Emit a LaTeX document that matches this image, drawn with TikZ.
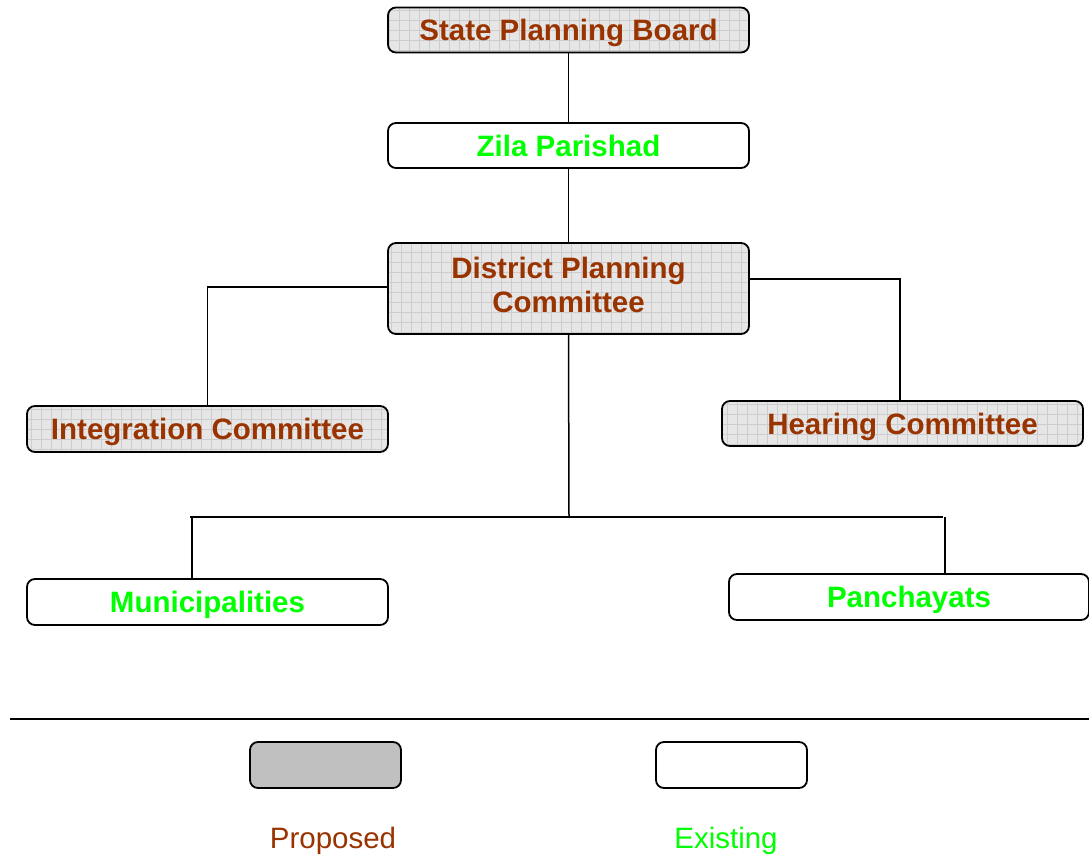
\documentclass[tikz,border=0pt]{standalone}
\usepackage{fontspec}
\setmainfont{Liberation Sans}
\definecolor{brownc}{HTML}{993300}
\definecolor{greenc}{HTML}{00FF00}
\definecolor{gridfill}{HTML}{E6E6E6}
\definecolor{gridline}{HTML}{CDCDCD}
\definecolor{legfill}{HTML}{C0C0C0}
\begin{document}
\begin{tikzpicture}[x=1pt,y=-1pt,
  basebox/.style={draw=black, line width=1.8pt, rounded corners=8pt, minimum width=361pt, minimum height=45pt, inner sep=0pt,
     font=\fontsize{29.5}{34}\selectfont\bfseries, align=center},
  proposed/.style={basebox, text=brownc, fill=gridfill,
     path picture={\draw[gridline, line width=0.6pt, step=10pt] (path picture bounding box.south west) grid (path picture bounding box.north east);}},
  existing/.style={basebox, text=greenc, fill=white},
  conn/.style={draw=black, line width=1.5pt},
  legtext/.style={font=\fontsize{29.5}{34}\selectfont, inner sep=0pt, text depth=0pt}
]
\useasboundingbox (0,0) rectangle (1089,856);
\node[proposed, text depth=0pt] (spb) at (568.5,30) {State Planning Board};
\node[existing, minimum height=45pt] (zila) at (568.5,145.5) {Zila Parishad};
\node[proposed, minimum height=91pt, text depth=8pt] (dpc) at (568.5,288.5) {District Planning\\Committee};
\node[proposed, minimum height=46pt, text depth=0pt] (integ) at (207.5,429) {Integration Committee};
\node[proposed, text depth=0pt] (hear) at (902.5,423.5) {Hearing Committee};
\node[existing, minimum height=46pt, text depth=0pt] (muni) at (207.5,602) {Municipalities};
\node[existing, minimum width=360pt, minimum height=46pt, text depth=0pt] (panch) at (909,597) {Panchayats};

\coordinate (busL) at (190,517);
\coordinate (busR) at (943,517);
\coordinate (busM) at (569,517);

\draw[conn] (spb.south) -- (zila.north);
\draw[conn] (zila.south) -- (dpc.north);
\draw[conn] (dpc.west |- 0,287) -| (integ.north);
\draw[conn] (dpc.east |- 0,279) -| (hear.north -| 900,0);
\draw[conn] (dpc.south) -- (busM);
\draw[conn] (busL) -- (busR);
\draw[conn] (192,517) -- (192,0 |- muni.north);
\draw[conn] (945,517) -- (945,0 |- panch.north);

% legend
\coordinate (lineL) at (10,719);
\coordinate (lineR) at (1089,719);
\draw[conn] (lineL) -- (lineR);
\node[draw=black, line width=1.8pt, rounded corners=8pt, fill=legfill, minimum width=151pt, minimum height=46pt, inner sep=0pt] (legP) at (325.5,765) {};
\node[draw=black, line width=1.8pt, rounded corners=8pt, fill=white, minimum width=151pt, minimum height=46pt, inner sep=0pt] (legE) at (731.5,765) {};
\node[legtext, text=brownc] (txtP) at (333,838) {Proposed};
\node[legtext, text=greenc] (txtE) at (726,838) {Existing};
\end{tikzpicture}
\end{document}
